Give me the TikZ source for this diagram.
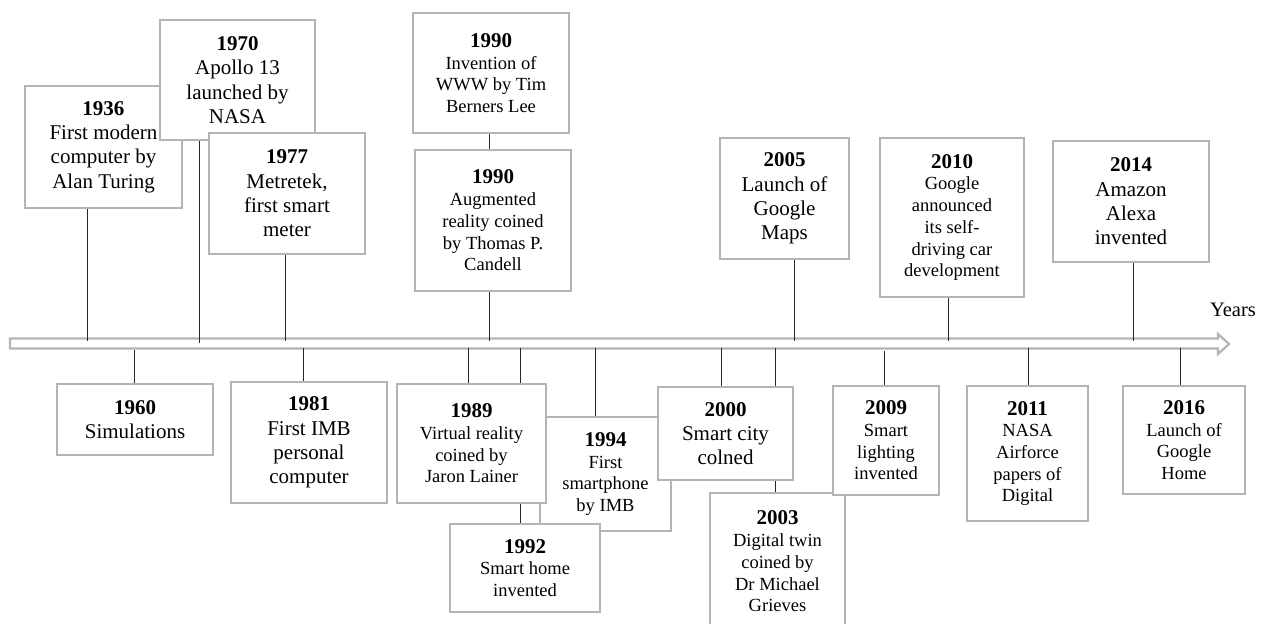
\documentclass[tikz,border=0pt]{standalone}
\usepackage{fontspec}
\setmainfont{Liberation Serif}
\usetikzlibrary{backgrounds}
\definecolor{boxgray}{RGB}{180,180,180}
\newcommand{\yr}[1]{{\fontsize{21}{24}\selectfont\bfseries #1}}

\begin{document}
\begin{tikzpicture}[
    x=1pt, y=-1pt,
    box/.style={draw=boxgray,
      line width=2.2pt,
      fill=white,
      inner sep=0pt,
      align=center,
      font=\fontsize{21}{24.3}\selectfont},
    sbox/.style={box, font=\fontsize{18.5}{21.7}\selectfont},
    tick/.style={line width=1pt, black!85}
  ]
  \useasboundingbox (0,0) rectangle (1267,624);

  % above the axis
  \node[box, minimum width=157pt, minimum height=122pt] (b1936) at (103.5,147) {\yr{1936}\\First modern\\computer by\\Alan Turing};
  \node[box, minimum width=155pt, minimum height=120pt] (b1970) at (237.5,80) {\yr{1970}\\Apollo 13\\launched by\\NASA};
  \node[box, minimum width=156pt, minimum height=121pt] (b1977) at (287,193.5) {\yr{1977}\\Metretek,\\first smart\\meter};
  \node[sbox, minimum width=156pt, minimum height=120pt] (b1990w) at (491,73) {\yr{1990}\\Invention of\\WWW by Tim\\Berners Lee};
  \node[sbox, minimum width=156pt, minimum height=141pt] (b1990a) at (493,220.5) {\yr{1990}\\Augmented\\reality coined\\by Thomas P.\\Candell};
  \node[box, minimum width=129pt, minimum height=121pt] (b2005) at (784.5,198.5) {\yr{2005}\\Launch of\\Google\\Maps};
  \node[sbox, minimum width=144pt, minimum height=159pt] (b2010) at (952,217.5) {\yr{2010}\\Google\\announced\\its self-\\driving car\\development};
  \node[box, minimum width=156pt, minimum height=121pt] (b2014) at (1131,201.5) {\yr{2014}\\Amazon\\Alexa\\invented};

  % below the axis
  \node[box, minimum width=156pt, minimum height=71pt] (b1960) at (135,419.5) {\yr{1960}\\Simulations};
  \node[box, minimum width=156pt, minimum height=121pt] (b1981) at (309,442.5) {\yr{1981}\\First IMB\\personal\\computer};
  \node[sbox, minimum width=131pt, minimum height=114pt] (b1994) at (605.5,474) {\yr{1994}\\First\\smartphone\\by IMB};
  \node[sbox, minimum width=149pt, minimum height=119pt] (b1989) at (471.5,443.5) {\yr{1989}\\Virtual reality\\coined by\\Jaron Lainer};
  \node[sbox, minimum width=150pt, minimum height=88pt] (b1992) at (525,568) {\yr{1992}\\Smart home\\invented};
  \node[box, minimum width=135pt, minimum height=93pt] (b2000) at (725.5,433.5) {\yr{2000}\\Smart city\\colned};
  \node[sbox, minimum width=135pt, minimum height=137pt] (b2003) at (777.5,561.5) {\yr{2003}\\Digital twin\\coined by\\Dr Michael\\Grieves};
  \node[sbox, minimum width=106pt, minimum height=109pt] (b2009) at (886,440.5) {\yr{2009}\\Smart\\lighting\\invented};
  \node[sbox, minimum width=121pt, minimum height=135pt] (b2011) at (1027.5,453.5) {\yr{2011}\\NASA\\Airforce\\papers of\\Digital};
  \node[sbox, minimum width=122pt, minimum height=108pt] (b2016) at (1184,440) {\yr{2016}\\Launch of\\Google\\Home};

  \node[font=\fontsize{20.5}{24}\selectfont, anchor=base] (years) at (1233,316) {Years};

  % points on the axis
  \coordinate (t1936) at (87,341);
  \coordinate (t1970) at (199,343);
  \coordinate (t1977) at (285,341);
  \coordinate (t1990) at (489,341);
  \coordinate (t2005) at (794,341);
  \coordinate (t2010) at (948,341);
  \coordinate (t2014) at (1133,341);
  \coordinate (t1960) at (134,350);
  \coordinate (t1981) at (303,348);
  \coordinate (t1989) at (468,348);
  \coordinate (t1992) at (520,348);
  \coordinate (t1994) at (595,348);
  \coordinate (t2000) at (721,348);
  \coordinate (t2003) at (775,348);
  \coordinate (t2009) at (884,351);
  \coordinate (t2011) at (1028,348);
  \coordinate (t2016) at (1180,348);

  \begin{scope}[on background layer]
    \draw[draw=boxgray, line width=2.2pt, fill=white]
      (10,338.5) -- (1218,338.5) -- (1218,334) -- (1229,344) -- (1218,354)
      -- (1218,348.5) -- (10,348.5) -- cycle;

    \draw[tick] (t1936 |- b1936.south) -- (t1936);
    \draw[tick] (t1970 |- b1970.south) -- (t1970);
    \draw[tick] (t1977 |- b1977.south) -- (t1977);
    \draw[tick] (t1990 |- b1990w.south) -- (t1990 |- b1990a.north);
    \draw[tick] (t1990 |- b1990a.south) -- (t1990);
    \draw[tick] (t2005 |- b2005.south) -- (t2005);
    \draw[tick] (t2010 |- b2010.south) -- (t2010);
    \draw[tick] (t2014 |- b2014.south) -- (t2014);

    \draw[tick] (t1960) -- (t1960 |- b1960.north);
    \draw[tick] (t1981) -- (t1981 |- b1981.north);
    \draw[tick] (t1989) -- (t1989 |- b1989.north);
    \draw[tick] (t1992) -- (t1992 |- b1992.north);
    \draw[tick] (t1994) -- (t1994 |- b1994.north);
    \draw[tick] (t2000) -- (t2000 |- b2000.north);
    \draw[tick] (t2003) -- (t2003 |- b2003.north);
    \draw[tick] (t2009) -- (t2009 |- b2009.north);
    \draw[tick] (t2011) -- (t2011 |- b2011.north);
    \draw[tick] (t2016) -- (t2016 |- b2016.north);
  \end{scope}
\end{tikzpicture}
\end{document}
